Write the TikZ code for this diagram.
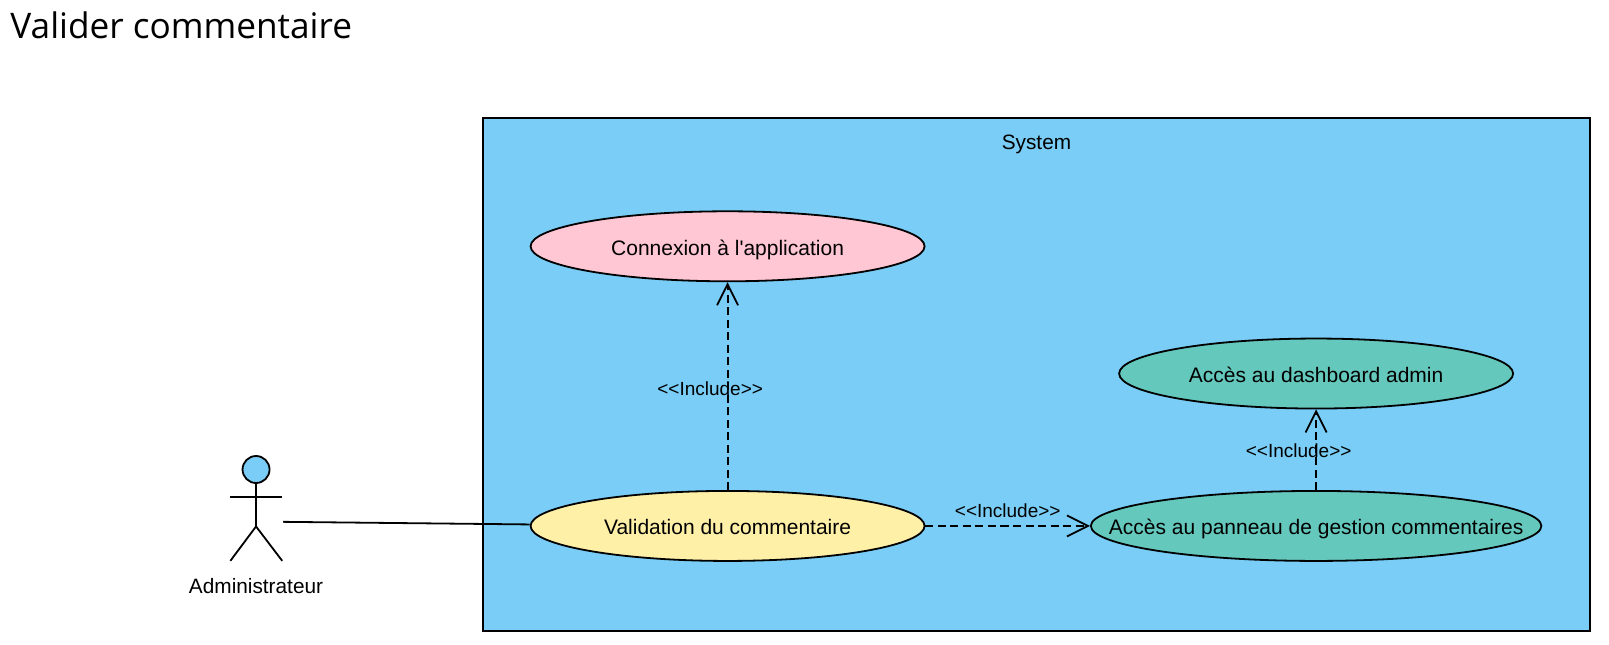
\documentclass[tikz,border=0pt]{standalone}
\usepackage{fontspec}
\setmainfont{Liberation Sans}
\newfontfamily\titlefont{Open Sans}
\newfontfamily\ucfont{Liberation Sans}
\usetikzlibrary{shapes.geometric,arrows.meta}
\definecolor{sysblue}{HTML}{79CDF6}
\definecolor{pinkuc}{HTML}{FFC6D4}
\definecolor{yellowuc}{HTML}{FFF0A8}
\definecolor{tealuc}{HTML}{65C8BC}
\newcommand{\uctext}[1]{\makebox[0pt]{#1}}
\tikzset{x=1.0262pt,y=-1.0262pt,
 uc/.style={draw=black,ellipse,line width=1.8pt,inner sep=0pt,text=black,text height=17.5pt,text depth=0pt,font=\fontsize{21}{25}\ucfont},
 lab/.style={font=\fontsize{19}{23}\selectfont,text=black},
 incl/.style={dash pattern=on 8pt off 4.5pt,line width=2pt,-{Straight Barb[length=21pt,width=21pt,line width=1.8pt]}},
 ln/.style={line width=1.8pt}}
\begin{document}
\begin{tikzpicture}
\useasboundingbox (0,0) rectangle (1567.9,627.6);
\node[anchor=west,font=\fontsize{35.2}{42}\selectfont\titlefont,inner sep=0pt] (title) at (10,25) {Valider commentaire};
\node[draw=black,fill=sysblue,line width=1.8pt,minimum width=1107pt,minimum height=513pt,inner sep=0pt,anchor=north west] (sys) at (470,114) {};
\node[font=\fontsize{20.8}{25}\selectfont] (systxt) at (1010,140.5) {System};
\node[uc,fill=pinkuc,minimum width=394pt,minimum height=70pt] (a) at (709,240) {\uctext{Connexion à l'application}};
\node[uc,fill=yellowuc,minimum width=394pt,minimum height=70pt] (b) at (709,512.5) {\uctext{Validation du commentaire}};
\node[uc,fill=tealuc,minimum width=394pt,minimum height=70pt] (c) at (1282.5,364) {\uctext{Accès au dashboard admin}};
\node[uc,fill=tealuc,minimum width=450.5pt,minimum height=70pt] (d) at (1282.5,512.5) {\uctext{Accès au panneau de gestion commentaires}};
\draw[incl] (b.north) -- (a.south);
\draw[incl] (b.east) -- (d.west);
\draw[incl] (d.north) -- (c.south);
\node[lab] (l1) at (692,378.5) {<{}<Include>{}>};
\node[lab] (l2) at (982,497.5) {<{}<Include>{}>};
\node[lab] (l3) at (1265.5,439.5) {<{}<Include>{}>};
% actor
\node[circle,draw=black,fill=sysblue,line width=1.8pt,minimum size=27pt,inner sep=0pt] (head) at (249.5,457.5) {};
\coordinate (hip) at (249.5,513);
\coordinate (armL) at (224.5,484.5);
\coordinate (armR) at (275,484.5);
\coordinate (footL) at (224.5,546.5);
\coordinate (footR) at (275,546.5);
\coordinate (hand) at (276,508.5);
\draw[ln] (head.south) -- (hip);
\draw[ln] (armL) -- (armR);
\draw[ln] (footL) -- (hip) -- (footR);
\node[font=\fontsize{20.8}{25}\selectfont] (actor) at (249.5,571.5) {Administrateur};
\draw[ln] (hand) -- ([yshift=1.5pt]b.west);
\end{tikzpicture}
\end{document}
